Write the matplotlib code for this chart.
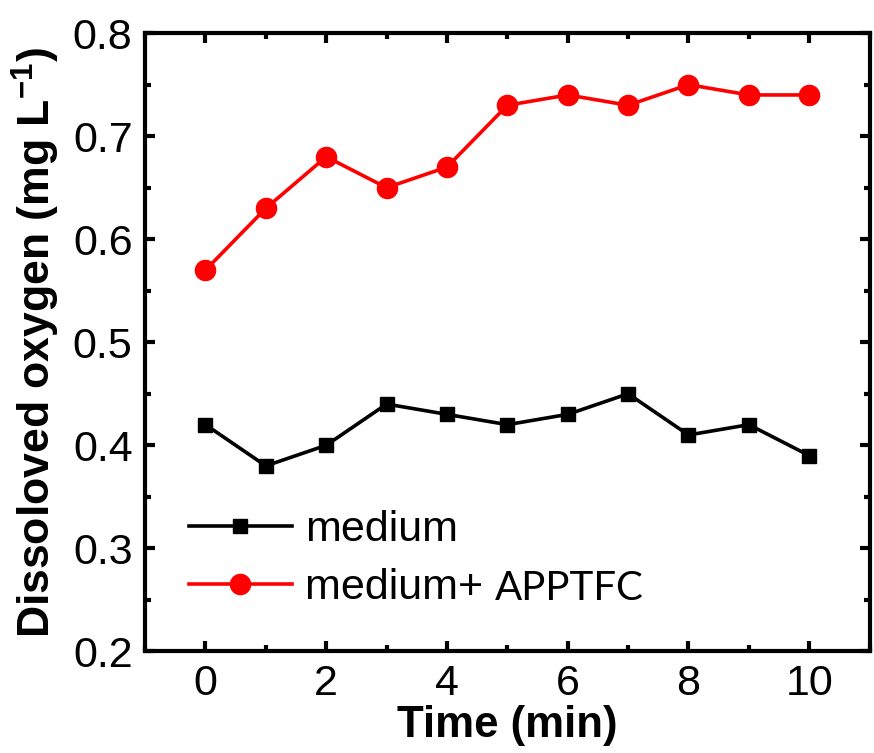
import numpy as np
import matplotlib
matplotlib.use('Agg')
import matplotlib.pyplot as plt
from matplotlib.ticker import MultipleLocator
from matplotlib import font_manager

plt.rcParams['font.family'] = ['Liberation Sans', 'DejaVu Sans']
plt.rcParams['mathtext.fontset'] = 'custom'
plt.rcParams['mathtext.rm'] = 'Liberation Sans:bold'
plt.rcParams['mathtext.default'] = 'rm'

# data
time_min = [0, 1, 2, 3, 4, 5, 6, 7, 8, 9, 10]
medium = [0.42, 0.38, 0.40, 0.44, 0.43, 0.42, 0.43, 0.45, 0.41, 0.42, 0.39]
medium_apptfc = [0.57, 0.63, 0.68, 0.65, 0.67, 0.73, 0.74, 0.73, 0.75, 0.74, 0.74]

names = {f.name for f in font_manager.fontManager.ttflist}
narrow = 'Liberation Sans Narrow' if 'Liberation Sans Narrow' in names else 'Liberation Sans'

fig = plt.figure(figsize=(8.74, 7.53), dpi=100)
ax = fig.add_axes([0.166, 0.135, 0.829, 0.821])

ax.plot(time_min, medium, 'k-', marker='s', lw=2.6, ms=10, label='medium')
ax.plot(time_min, medium_apptfc, '-', color='red', marker='o', lw=2.6, ms=14.5,
        label='medium+ ')

ax.set_xlim(-1, 11)
ax.set_ylim(0.2, 0.8)
ax.xaxis.set_major_locator(MultipleLocator(2))
ax.xaxis.set_minor_locator(MultipleLocator(1))
ax.yaxis.set_minor_locator(MultipleLocator(0.05))
ax.set_yticks(np.arange(0.2, 0.81, 0.1))
ax.set_yticklabels(['0.2', '0.3', '0.4', '0.5', '0.6', '0.7', '0.8'])

for s in ax.spines.values():
    s.set_linewidth(3)
ax.tick_params(which='both', direction='in', top=True, right=True, width=3)
ax.tick_params(which='major', length=7, labelsize=31, pad=9)
ax.tick_params(which='minor', length=4)

ax.set_xlabel('Time (min)', fontsize=31.5, fontweight='bold', labelpad=1)
ax.set_ylabel('Dissoloved oxygen (mg L$^{-1}$)', family=[narrow, 'DejaVu Sans'],
              fontsize=32, fontweight='bold', labelpad=8)

leg = ax.legend(loc='lower left', bbox_to_anchor=(0.06, 0.07), frameon=False,
                borderpad=0, borderaxespad=0,
                fontsize=31, handlelength=2.4, handletextpad=0.3, labelspacing=0.42)

# second part of the red label is set in another typeface
fig.canvas.draw()
bb = leg.get_texts()[1].get_window_extent()
W, H = fig.get_size_inches() * fig.dpi
fig.text(bb.x1 / W, (bb.y0 + bb.y1) / 2 / H, 'APPTFC',
         family=['Lato', 'DejaVu Sans'], fontsize=29, va='center', ha='left')

fig.savefig('out.png', dpi=100)
